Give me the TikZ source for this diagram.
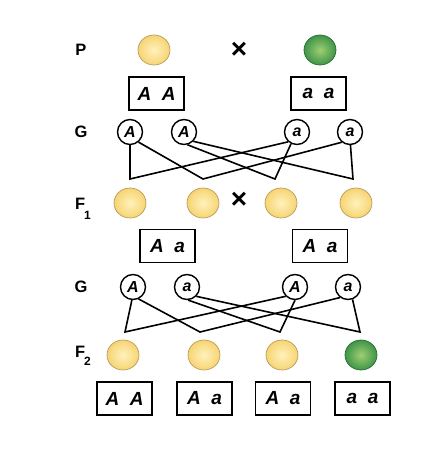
\documentclass[tikz,border=0pt]{standalone}
\usepackage{fontspec}
\setmainfont{Liberation Sans}
\usetikzlibrary{shapes.geometric}
\definecolor{peaylt}{RGB}{255,242,188}
\definecolor{peay}{RGB}{246,212,115}
\definecolor{peayln}{RGB}{185,155,90}
\definecolor{peaglt}{RGB}{160,205,115}
\definecolor{peag}{RGB}{62,150,72}
\definecolor{peagln}{RGB}{45,105,55}

\begin{document}
\begin{tikzpicture}[x=1pt,y=-1pt,
  yellowpea/.style={ellipse,minimum width=32pt,minimum height=30pt,inner sep=0pt,
    draw=peayln,line width=.7pt,inner color=peaylt,outer color=peay},
  greenpea/.style={ellipse,minimum width=32pt,minimum height=30pt,inner sep=0pt,
    draw=peagln,line width=.7pt,inner color=peaglt,outer color=peag},
  genebox/.style={draw,line width=1.6pt,minimum width=55pt,minimum height=33pt,
    font=\fontsize{19}{19}\selectfont\bfseries\itshape},
  gamete/.style={circle,draw,line width=1.4pt,minimum size=25pt,inner sep=0pt,
    font=\fontsize{16}{16}\selectfont\bfseries\itshape},
  gen/.style={font=\fontsize{16.5}{16.5}\selectfont\bfseries},
  cross/.style={font=\fontsize{28}{28}\selectfont\bfseries},
  link/.style={line width=1.6pt}]
\useasboundingbox (0,0) rectangle (442,450);

% P
\node[gen] (lp) at (81,50) {P};
\node[yellowpea] (p1) at (154,50) {};
\node[cross] (x1) at (239,50) {×};
\node[greenpea] (p2) at (320,50) {};
\node[genebox] (bp1) at (156.5,93.5) {A~~A};
\node[genebox] (bp2) at (318.5,93.5) {a~~a};

% G
\node[gen] (lg1) at (81,132) {G};
\node[gamete] (g1a) at (130,132) {A};
\node[gamete] (g1b) at (184,132) {A};
\node[gamete] (g1c) at (297,132) {a};
\node[gamete] (g1d) at (350,132) {a};
\coordinate (j1a) at (130,179);
\coordinate (j1b) at (203,179);
\coordinate (j1c) at (275,179);
\coordinate (j1d) at (353,179);
\draw[link] (g1a.south) -- (j1a) -- (g1c.228);
\draw[link] (g1a.310) -- (j1b) -- (g1d.231);
\draw[link] (g1b.285) -- (j1c) -- (g1c.243);
\draw[link] (g1b.315) -- (j1d) -- (g1d.272);

% F1
\node[gen] (lf1) at (83,209) {F\raisebox{-10pt}{\kern-1pt\fontsize{12}{12}\selectfont 1}};
\node[yellowpea] (f1a) at (130,203) {};
\node[yellowpea] (f1b) at (203,203) {};
\node[cross] (x2) at (239,200) {×};
\node[yellowpea] (f1c) at (281,203) {};
\node[yellowpea] (f1d) at (356,203) {};
\node[genebox] (bf1) at (167.5,246) {A~~a};
\node[genebox] (bf2) at (320,246) {A~~a};

% G
\node[gen] (lg2) at (81,287) {G};
\node[gamete] (g2a) at (133,287) {A};
\node[gamete] (g2b) at (187,287) {a};
\node[gamete] (g2c) at (295,287) {A};
\node[gamete] (g2d) at (348,287) {a};
\coordinate (j2a) at (125,332);
\coordinate (j2b) at (200,332);
\coordinate (j2c) at (280,332);
\coordinate (j2d) at (360,332);
\draw[link] (g2a.265) -- (j2a) -- (g2c.225);
\draw[link] (g2a.295) -- (j2b) -- (g2d.233);
\draw[link] (g2b.275) -- (j2c) -- (g2c.south);
\draw[link] (g2b.315) -- (j2d) -- (g2d.290);

% F2
\node[gen] (lf2) at (83,356) {F\raisebox{-8pt}{\kern-1pt\fontsize{12}{12}\selectfont 2}};
\node[yellowpea] (f2a) at (123,355) {};
\node[yellowpea] (f2b) at (204,355) {};
\node[yellowpea] (f2c) at (282,355) {};
\node[greenpea] (f2d) at (361,355) {};
\node[genebox] (bf3) at (124.5,398.5) {A~~A};
\node[genebox] (bf4) at (204.5,398.5) {A~~a};
\node[genebox] (bf5) at (283,398.5) {A~~a};
\node[genebox] (bf6) at (362.5,398.5) {a~~a};
\end{tikzpicture}
\end{document}
